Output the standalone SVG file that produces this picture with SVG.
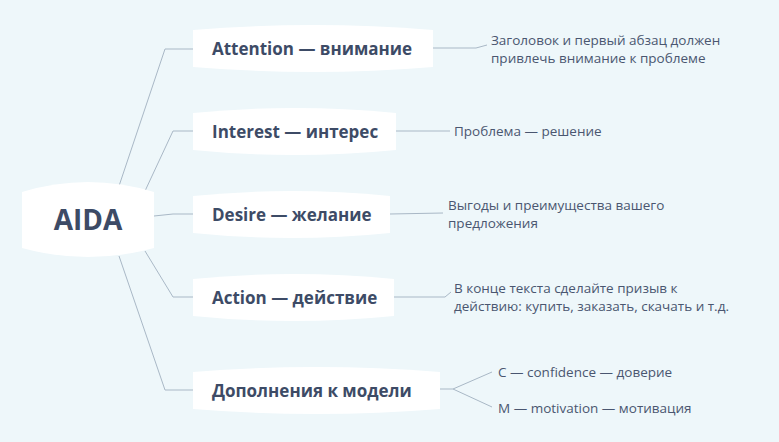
<svg xmlns="http://www.w3.org/2000/svg" width="779" height="442" viewBox="0 0 779 442">
<style>
.n{fill:#fff}
.t{font-family:"Open Sans",sans-serif;font-weight:bold;font-size:17px;fill:#3d4b66}
.s{font-family:"Open Sans",sans-serif;font-size:13.5px;fill:#4a5670}
.c{fill:none;stroke:#a9b8c6;stroke-width:1}
</style>
<rect width="779" height="442" fill="#eef7fa"/>
<g id="connectors" class="c">
<path d="M119,186 L165,49 L193,49"/>
<path d="M145,191 L173,131 L193,131"/>
<path d="M154,216 L173,214 L193,214"/>
<path d="M145,251 L173,297 L193,297"/>
<path d="M119,256 L165,390 L193,390"/>
<path d="M433,48 L476,48 L487,45"/>
<path d="M396,131 L450,131"/>
<path d="M390,214 L443,213"/>
<path d="M394,297 L445,297 L451,292"/>
<path d="M440,389 L453,389 L492,372 M453,389 L492,407"/>
</g>
<g id="n-aida"><path class="n" d="M22,192 Q88,172 154,192 L154,248 Q88,266 22,248 Z" transform="translate(0,0)"/><text class="t" x="88" y="230" style="font-size:28px" text-anchor="middle">AIDA</text></g>
<g id="n-attention"><path class="n" d="M193,30 Q313,20 433,30 L433,67 Q313,77 193,67 Z"/><text class="t" x="212" y="55">Attention — внимание</text></g>
<g id="n-interest"><path class="n" d="M193,113 Q294,103 396,113 L396,150 Q294,160 193,150 Z"/><text class="t" x="212" y="138">Interest — интерес</text></g>
<g id="n-desire"><path class="n" d="M193,196 Q291,186 390,196 L390,233 Q291,243 193,233 Z"/><text class="t" x="212" y="221">Desire — желание</text></g>
<g id="n-action"><path class="n" d="M193,279 Q293,269 394,279 L394,316 Q293,326 193,316 Z"/><text class="t" x="212" y="304">Action — действие</text></g>
<g id="n-dop"><path class="n" d="M193,372 Q316,362 440,372 L440,409 Q316,419 193,409 Z"/><text class="t" x="212" y="397">Дополнения к модели</text></g>
<g id="n-t1"><text class="s" x="491" y="45">Заголовок и первый абзац должен</text><text class="s" x="491" y="63">привлечь внимание к проблеме</text></g>
<g id="n-t2"><text class="s" x="454" y="136">Проблема — решение</text></g>
<g id="n-t3"><text class="s" x="448" y="210">Выгоды и преимущества вашего</text><text class="s" x="448" y="228">предложения</text></g>
<g id="n-t4"><text class="s" x="454" y="293">В конце текста сделайте призыв к</text><text class="s" x="454" y="311">действию: купить, заказать, скачать и т.д.</text></g>
<g id="n-t5"><text class="s" x="498" y="377">C — confidence — доверие</text></g>
<g id="n-t6"><text class="s" x="498" y="413">M — motivation — мотивация</text></g>
</svg>
